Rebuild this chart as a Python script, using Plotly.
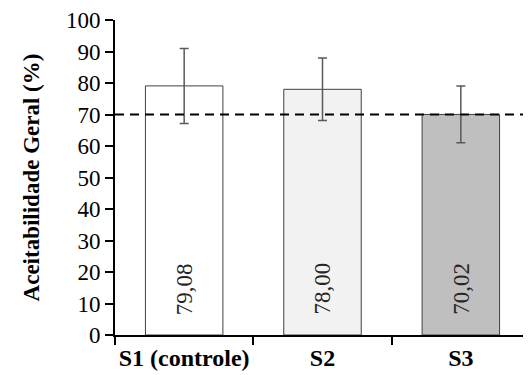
import plotly.graph_objects as go

categories = ["S1 (controle)", "S2", "S3"]
values = [79.08, 78.00, 70.02]
errors = [11.9, 9.9, 9.0]
labels = ["79,08", "78,00", "70,02"]
bar_colors = ["#ffffff", "#f2f2f2", "#bfbfbf"]
reference_line = 70
y_ticks = list(range(0, 101, 10))
label_y = 14.6

FONT = "Liberation Serif"

fig = go.Figure()
fig.add_trace(go.Bar(
    x=categories, y=values,
    width=0.56,
    marker=dict(color=bar_colors, line=dict(color="#404040", width=1)),
    error_y=dict(type="data", array=errors, visible=True,
                 color="#595959", thickness=1.5, width=4.5),
    showlegend=False,
))

for c, lab in zip(categories, labels):
    fig.add_annotation(x=c, y=label_y, text=lab, textangle=-90,
                       showarrow=False, xref="x", yref="y",
                       font=dict(family=FONT, size=23, color="#262626"))

fig.add_shape(type="line", xref="paper", yref="y", x0=0, x1=1,
              y0=reference_line, y1=reference_line, layer="above",
              line=dict(color="black", width=2, dash="9px,6px"))

# page body adds an 8px margin, so the figure is 8px smaller than the window
fig.update_layout(
    width=523, height=367,
    margin=dict(l=107, r=1, t=12, b=40, autoexpand=False),
    paper_bgcolor="white", plot_bgcolor="white",
    font=dict(family=FONT, color="black"),
    xaxis=dict(
        type="category", range=[-0.5, 2.5], tickson="boundaries",
        ticks="outside", ticklen=8, tickwidth=2, tickcolor="black",
        tickangle=0, automargin=False,
        showline=True, linecolor="black", linewidth=2,
        showgrid=False, zeroline=False,
        tickfont=dict(family=FONT, size=24, color="black", weight="bold"),
    ),
    yaxis=dict(
        range=[0, 100], tickvals=y_ticks, ticks="outside", ticklen=8,
        tickwidth=2, tickcolor="black", automargin=False,
        showline=True, linecolor="black", linewidth=2,
        showgrid=False, zeroline=False,
        tickfont=dict(family=FONT, size=23, color="black"),
        title=dict(text="Aceitabilidade Geral (%)", standoff=20,
                   font=dict(family=FONT, size=23, color="black", weight="bold")),
    ),
)

fig.write_html("out.html")
